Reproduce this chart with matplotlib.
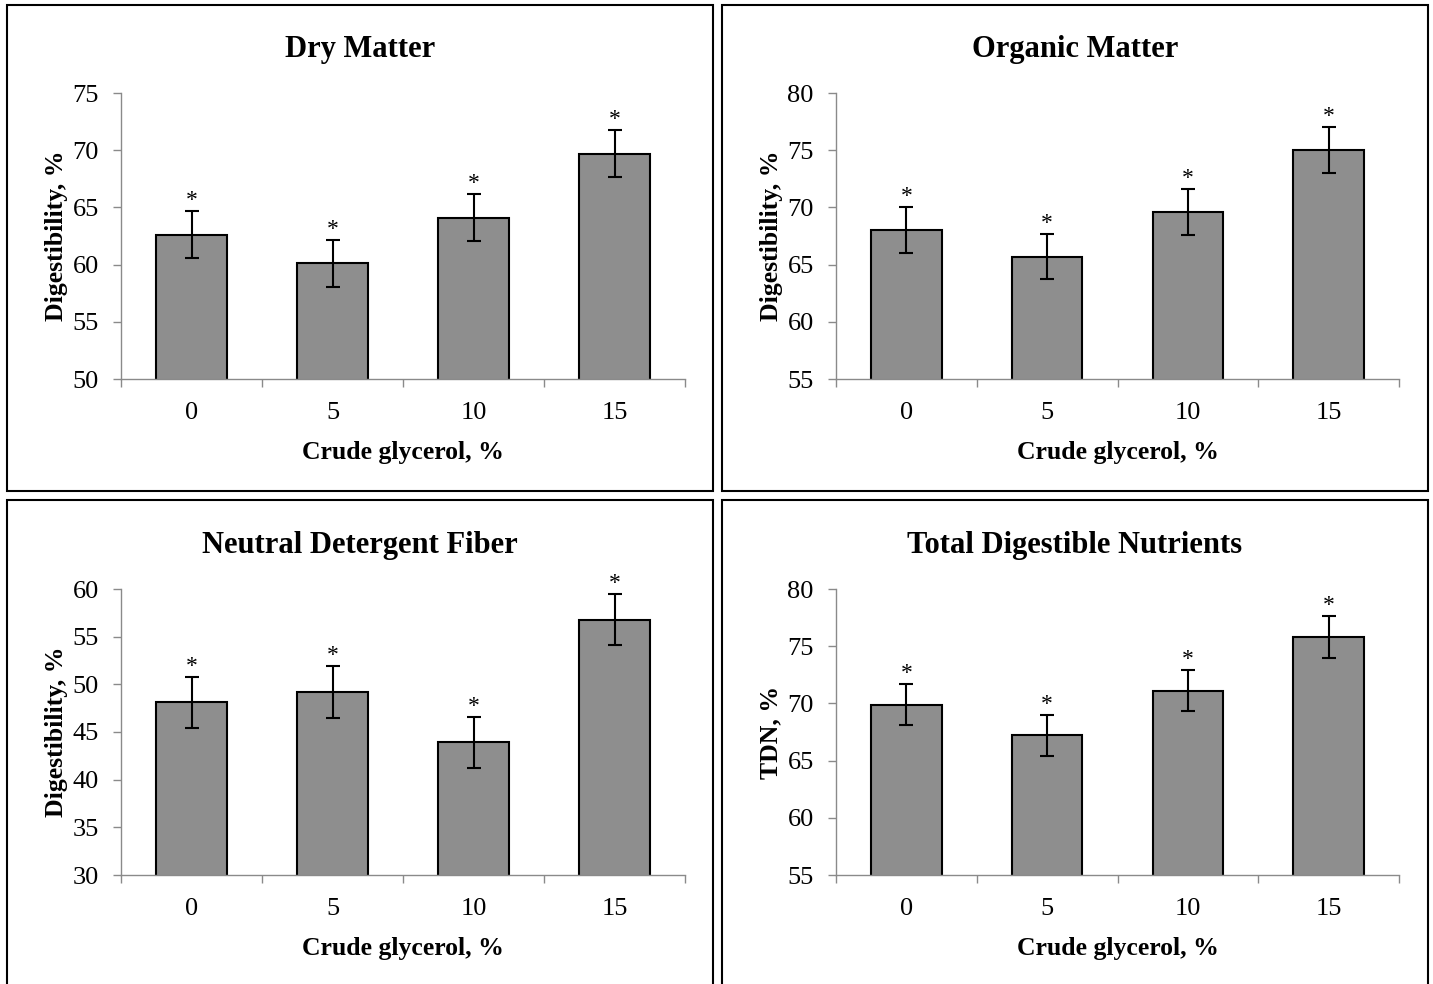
import matplotlib
matplotlib.use("Agg")
import matplotlib.pyplot as plt
from matplotlib.patches import Rectangle

plt.rcParams['font.family'] = ['Liberation Serif', 'DejaVu Serif']

# Crude glycerol levels
levels = ['0', '5', '10', '15']

# Digestibility means and error
dm_mean = [62.6, 60.1, 64.1, 69.7]
dm_err = [2.05, 2.05, 2.05, 2.05]
om_mean = [68.0, 65.7, 69.6, 75.0]
om_err = [2.0, 2.0, 2.0, 2.0]
ndf_mean = [48.1, 49.2, 43.9, 56.8]
ndf_err = [2.7, 2.7, 2.7, 2.7]
tdn_mean = [69.9, 67.2, 71.1, 75.8]
tdn_err = [1.8, 1.8, 1.8, 1.8]

titles = ['Dry Matter', 'Organic Matter', 'Neutral Detergent Fiber',
          'Total Digestible Nutrients']
ylabels = ['Digestibility, %', 'Digestibility, %', 'Digestibility, %', 'TDN, %']
ylims = [(50, 75), (55, 80), (30, 60), (55, 80)]

W, H = 1433, 984
fig = plt.figure(figsize=(W / 100, H / 100), dpi=100)

# axes rectangles in pixels: left, top, right, bottom
ax_px = [(121, 93, 685, 379), (836, 93, 1399, 379),
         (121, 589, 685, 875), (836, 589, 1399, 875)]
frame_px = [(7, 5, 713, 491), (722, 5, 1428, 491),
            (7, 500, 713, 995), (722, 500, 1428, 995)]
title_y = [49, 49, 545, 545]

data = [(dm_mean, dm_err), (om_mean, om_err), (ndf_mean, ndf_err), (tdn_mean, tdn_err)]
axis_gray = '#8a8a8a'

for i in range(4):
    l, t, r, b = ax_px[i]
    ax = fig.add_axes([l / W, 1 - b / H, (r - l) / W, (b - t) / H])
    mean, err = data[i]
    x = range(len(levels))
    ax.bar(x, mean, width=0.5, color='#8e8e8e', edgecolor='black', linewidth=1.5,
           zorder=2)
    ax.errorbar(x, mean, yerr=err, fmt='none', ecolor='black', elinewidth=1.5,
                capsize=5, capthick=1.5, zorder=3)
    for xi, m, e in zip(x, mean, err):
        ax.annotate('*', (xi, m + e), xytext=(0, 0), textcoords='offset points',
                    ha='center', va='bottom', fontsize=17)

    ax.set_xlim(-0.5, len(levels) - 0.5)
    ax.set_ylim(*ylims[i])
    lo, hi = ylims[i]
    ax.set_yticks(range(lo, hi + 1, 5))
    ax.set_xticks(list(x))
    ax.set_xticklabels(levels)
    ax.set_xticks([k - 0.5 for k in range(len(levels) + 1)], minor=True)
    ax.tick_params(axis='x', which='major', length=0, pad=16.5, labelsize=19)
    ax.tick_params(axis='x', which='minor', length=6, direction='out',
                   color=axis_gray, width=1)
    ax.tick_params(axis='y', length=6, direction='out', color=axis_gray,
                   width=1, pad=10, labelsize=19)
    for s in ['top', 'right']:
        ax.spines[s].set_visible(False)
    for s in ['left', 'bottom']:
        ax.spines[s].set_color(axis_gray)
        ax.spines[s].set_linewidth(1)
    ax.set_xlabel('Crude glycerol, %', fontsize=18.5, fontweight='bold', labelpad=12)
    ax.set_ylabel(ylabels[i], fontsize=18.5, fontweight='bold', labelpad=3.5)

    fl, ft, fr, fb = frame_px[i]
    fig.patches.append(Rectangle((fl / W, 1 - fb / H), (fr - fl) / W, (fb - ft) / H,
                                 transform=fig.transFigure, fill=False,
                                 edgecolor='black', linewidth=1.5))
    fig.text((fl + fr) / 2 / W, 1 - title_y[i] / H, titles[i], ha='center',
             va='center', fontsize=22, fontweight='bold')

fig.savefig('out.png', dpi=100)
